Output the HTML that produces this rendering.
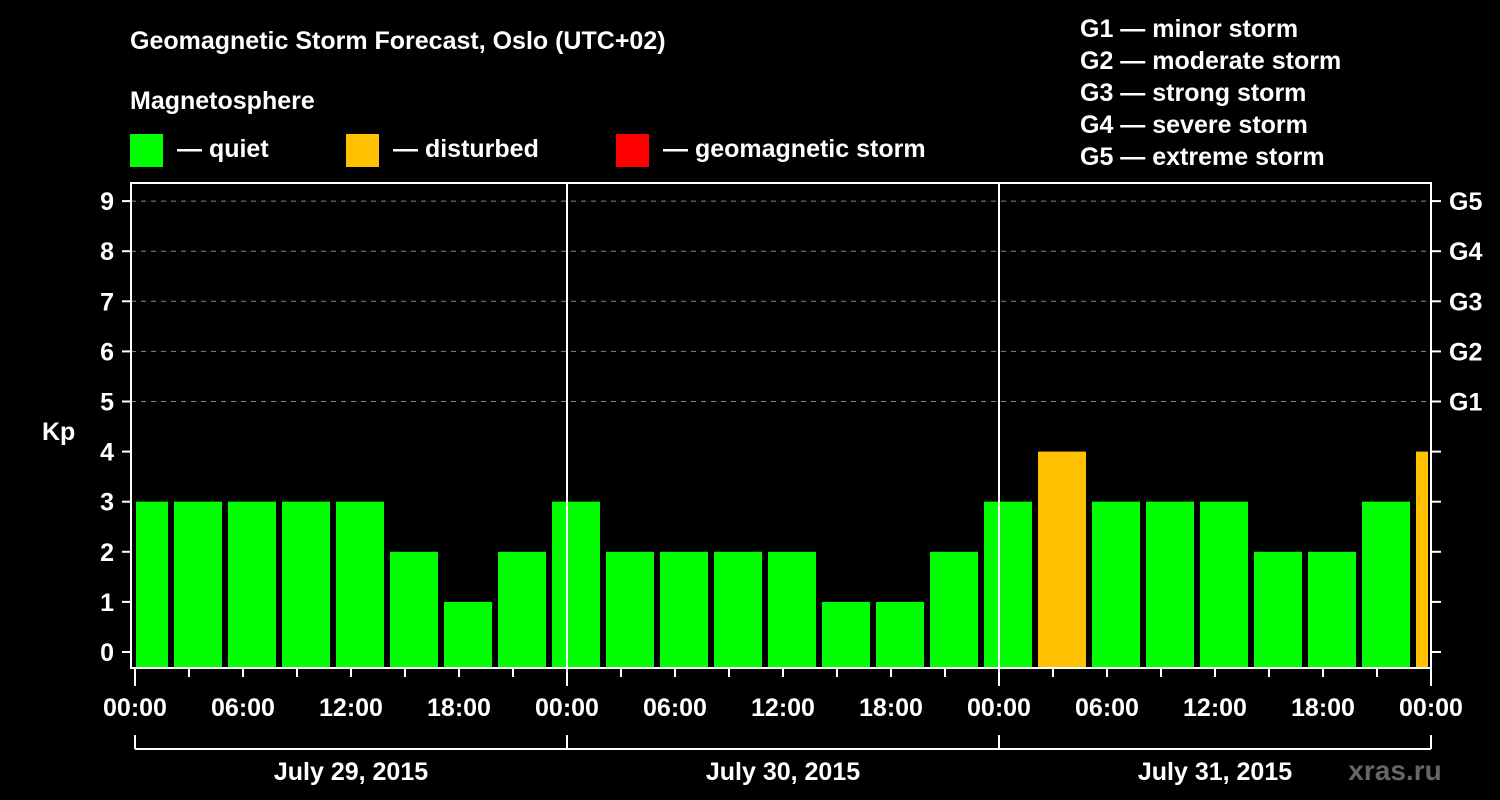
<!DOCTYPE html>
<html><head><meta charset="utf-8"><style>
html,body{margin:0;background:#000;width:1500px;height:800px;overflow:hidden}
svg{display:block;font-family:"Liberation Sans",Arial,sans-serif;font-weight:bold}
</style></head><body>
<svg id="c" width="1500" height="800">
<text x="130" y="49" fill="#fff" font-size="25">Geomagnetic Storm Forecast, Oslo (UTC+02)</text>
<text x="130" y="109" fill="#fff" font-size="25">Magnetosphere</text>
<g><rect x="130" y="134" width="33" height="33" fill="#00ff00"/><text x="177" y="157" fill="#fff" font-size="25">— quiet</text></g>
<g><rect x="346" y="134" width="33" height="33" fill="#ffc000"/><text x="393" y="157" fill="#fff" font-size="25">— disturbed</text></g>
<g><rect x="616" y="134" width="33" height="33" fill="#ff0000"/><text x="663" y="157" fill="#fff" font-size="25">— geomagnetic storm</text></g>
<g fill="#fff" font-size="25">
<text x="1080" y="37">G1 — minor storm</text>
<text x="1080" y="69">G2 — moderate storm</text>
<text x="1080" y="101">G3 — strong storm</text>
<text x="1080" y="133">G4 — severe storm</text>
<text x="1080" y="165">G5 — extreme storm</text>
</g>
<text x="42" y="440" fill="#fff" font-size="25">Kp</text>
<g id="grid"></g><g id="bars"></g><g id="axes"></g>
<text x="1395" y="780" fill="#666" font-size="28" text-anchor="middle">xras.ru</text>
</svg>
<script>
const kpValues=[3,3,3,3,3,2,1,2,3,2,2,2,2,1,1,2,3,4,3,3,3,2,2,3,4];
const yTicks=[0,1,2,3,4,5,6,7,8,9];
const gLabels=["G1","G2","G3","G4","G5"];
const gLevels=[5,6,7,8,9];
const dayLabels=["July 29, 2015","July 30, 2015","July 31, 2015"];
const hourLabels=["00:00","06:00","12:00","18:00"];
const NS="http://www.w3.org/2000/svg";
const L=131,R=1431,T=183,B=668,X0=135,PXH=18;
const y=v=>652-v*50.1;
const x=h=>X0+h*PXH;
function mk(p,tag,a){const e=document.createElementNS(NS,tag);for(const k in a)e.setAttribute(k,a[k]);p.appendChild(e);return e;}
const grid=document.getElementById('grid'),bars=document.getElementById('bars'),axes=document.getElementById('axes');
yTicks.forEach(v=>{
 if(v>=5){const g=mk(grid,'line',{x1:L,x2:R,y1:y(v),y2:y(v),stroke:'#888','stroke-dasharray':'5,5'});
 
 }
 mk(axes,'line',{x1:122,x2:L,y1:y(v),y2:y(v),stroke:'#fff','stroke-width':2});
 mk(axes,'line',{x1:R,x2:1441,y1:y(v),y2:y(v),stroke:'#fff','stroke-width':2});
 const t=mk(axes,'text',{x:114,y:y(v)+9,fill:'#fff','font-size':25,'text-anchor':'end'});t.textContent=v;
 
 
});
gLevels.forEach((v,i)=>{const t=mk(axes,'text',{x:1449,y:y(v)+9,fill:'#fff','font-size':25});t.textContent=gLabels[i];
 
 });
kpValues.forEach((v,i)=>{
 let x1=Math.max(x(i*3)-15,L+5),x2=Math.min(x(i*3)+33,R-3);
 const c=v>=5?'#ff0000':v>=4?'#ffc000':'#00ff00';
 const r=mk(bars,'rect',{x:x1,y:y(v),width:x2-x1,height:B-y(v),fill:c});
 
 
});
const fr=mk(axes,'rect',{x:L,y:T,width:R-L,height:B-T,fill:'none',stroke:'#fff','stroke-width':2});


for(let d=1;d<dayLabels.length;d++)mk(axes,'line',{x1:x(d*24),x2:x(d*24),y1:T,y2:B,stroke:'#fff','stroke-width':2});
for(let h=0;h<=72;h+=3){
 mk(axes,'line',{x1:x(h),x2:x(h),y1:B,y2:h%24===0?686:677,stroke:'#fff','stroke-width':2});
 if(h%6===0){const t=mk(axes,'text',{x:x(h),y:716,fill:'#fff','font-size':25,'text-anchor':'middle'});t.textContent=hourLabels[(h%24)/6];
 
 }
}
mk(axes,'line',{x1:x(0),x2:x(72),y1:749,y2:749,stroke:'#fff','stroke-width':2});
for(let d=0;d<=dayLabels.length;d++)mk(axes,'line',{x1:x(d*24),x2:x(d*24),y1:735,y2:749,stroke:'#fff','stroke-width':2});
dayLabels.forEach((s,d)=>{const t=mk(axes,'text',{x:x(d*24+12),y:780,fill:'#fff','font-size':25,'text-anchor':'middle'});t.textContent=s;
 
 });
</script>
</body></html>
